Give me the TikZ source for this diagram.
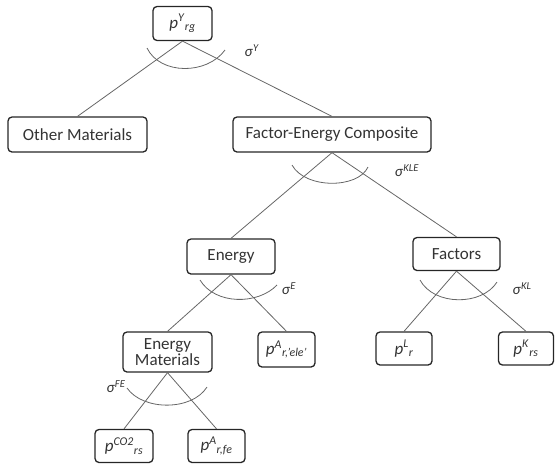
\documentclass[tikz,border=0pt]{standalone}
\usepackage{fontspec}
\setmainfont{Carlito}
% price variable: italic p with superscript and trailing subscript
\newcommand\pvar[2]{\textit{p}\textsuperscript{\textit{#1}}\textsubscript{\textit{#2}}}
% substitution elasticity label
\newcommand\elas[1]{\textit{σ}\textsuperscript{\textit{#1}}}
\begin{document}
\begin{tikzpicture}[x=1pt,y=-1pt,
  box/.style={draw=black!85, line width=1.3pt, rounded corners=4pt, inner sep=0pt,
              align=center, text=black!80, font=\fontsize{17}{17}\selectfont},
  link/.style={draw=black!60, line width=0.8pt},
  nest/.style={draw=black!60, line width=0.8pt},
  sig/.style={font=\fontsize{15}{15}\selectfont, text=black!80, inner sep=0pt}]
\useasboundingbox (0,0) rectangle (556,464);

% nodes of the nesting tree
\node[box, minimum width=59pt, minimum height=34pt] (top) at (182.5,23.5) {\pvar{Y}{rg}};
\node[box, minimum width=139pt, minimum height=35pt] (other) at (77.5,134.5) {Other Materials};
\node[box, minimum width=198pt, minimum height=35pt] (fec) at (332,134.5) {Factor-Energy Composite};
\node[box, minimum width=88pt, minimum height=35pt] (energy) at (231,256.5) {Energy};
\node[box, minimum width=87pt, minimum height=33pt] (factors) at (456.5,254) {Factors};
\node[box, minimum width=89pt, minimum height=40pt] (em) at (167.5,352) {Energy\\[-1pt]Materials};
\node[box, minimum width=57pt, minimum height=35pt] (pele) at (286.5,349.5) {\pvar{A}{r,'ele'}};
\node[box, minimum width=56pt, minimum height=33pt] (pl) at (404,348.5) {\pvar{L}{r}};
\node[box, minimum width=55pt, minimum height=33pt] (pk) at (526,348.5) {\pvar{K}{rs}};
\node[box, minimum width=58pt, minimum height=33pt] (pco) at (124,446) {\pvar{CO2}{rs}};
\node[box, minimum width=57pt, minimum height=33pt] (pfe) at (216.5,446) {\pvar{A}{r,fe}};

% branches
\draw[link] (top.south) -- (other.north);
\draw[link] (top.south) -- (fec.north);
\draw[link] (fec.south) -- (energy.north);
\draw[link] (fec.south) -- (factors.north);
\draw[link] (energy.south) -- (em.north);
\draw[link] (energy.south) -- (pele.north);
\draw[link] (factors.south) -- (pl.north);
\draw[link] (factors.south) -- (pk.north);
\draw[link] (em.south) -- (pco.north);
\draw[link] (em.south) -- (pfe.north);

% elasticity arcs
\draw[nest] (147,48) .. controls (160,75) and (207,75) .. (225,50);
\draw[nest] (292,165) .. controls (305,189) and (358,189) .. (368,167);
\draw[nest] (200,280) .. controls (215,305) and (258,305) .. (277,285);
\draw[nest] (420,280) .. controls (434,306) and (482,306) .. (497,282);
\draw[nest] (127,388) .. controls (143,411) and (192,411) .. (207,387);

% elasticity labels
\node[sig] (sy) at (252,51) {\elas{Y}};
\node[sig] (skle) at (407,171) {\elas{KLE}};
\node[sig] (se) at (289,289) {\elas{E}};
\node[sig] (skl) at (522,289) {\elas{KL}};
\node[sig] (sfe) at (116,387) {\elas{FE}};
\end{tikzpicture}
\end{document}
